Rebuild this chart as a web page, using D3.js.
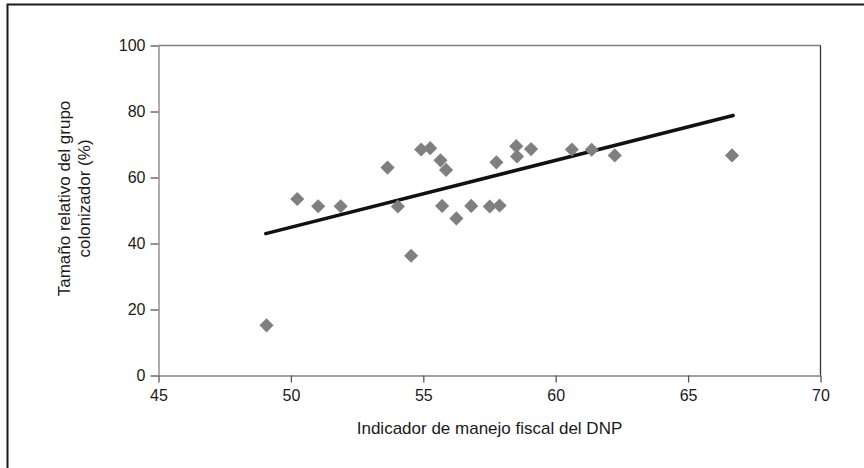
<!DOCTYPE html>
<html><head><meta charset="utf-8">
<script src="https://cdn.jsdelivr.net/npm/d3@7"></script>
<style>
body{margin:0;background:#fff;}
text{font-family:"Liberation Sans",Arial,sans-serif;fill:#1a1a1a;}
</style></head>
<body>
<svg id="c" width="864" height="468"></svg>
<script>
const xValues = [49.08,50.24,51.03,51.88,53.65,54.04,54.54,54.92,55.26,55.65,55.86,55.71,56.25,56.81,57.51,57.88,57.76,58.51,58.54,59.07,60.61,61.36,62.23,66.66];
const yValues = [15.2,53.5,51.3,51.3,63.0,51.2,36.3,68.5,68.9,65.2,62.3,51.4,47.6,51.4,51.2,51.5,64.6,69.5,66.4,68.6,68.5,68.4,66.7,66.7];
const trendX = [49.05, 66.7];
const trendY = [43.0, 78.8];
const xTicks = [45,50,55,60,65,70];
const yTicks = [0,20,40,60,80,100];
const xTitle = "Indicador de manejo fiscal del DNP";
const yTitle = ["Tamaño relativo del grupo","colonizador (%)"];

const svg = d3.select("#c");
const L=158.5, R=820.5, T=45.5, B=375.5;
const x = d3.scaleLinear().domain([45,70]).range([L,R]);
const y = d3.scaleLinear().domain([0,100]).range([B,T]);

// outer frame
svg.append("rect").attr("x",7.5).attr("y",4.5).attr("width",900).attr("height",500)
  .attr("fill","none").attr("stroke","#1a1a1a").attr("stroke-width",2);

// plot frame top and right
svg.append("line").attr("x1",L).attr("x2",R).attr("y1",T).attr("y2",T).attr("stroke","#808080").attr("stroke-width",1.3);
svg.append("line").attr("x1",R).attr("x2",R).attr("y1",T).attr("y2",B).attr("stroke","#333").attr("stroke-width",1.3);

const xAxis = svg.append("g").attr("transform",`translate(0,${B})`)
  .call(d3.axisBottom(x).tickValues(xTicks).tickSizeOuter(0).tickSizeInner(7).tickPadding(7).tickFormat(d3.format("d")));
const yAxis = svg.append("g").attr("transform",`translate(${L},0)`)
  .call(d3.axisLeft(y).tickValues(yTicks).tickSizeOuter(0).tickSizeInner(8).tickPadding(5).tickFormat(d3.format("d")));
[xAxis,yAxis].forEach(g=>{
  g.select(".domain").attr("stroke","#808080").attr("stroke-width",1.3);
  g.selectAll(".tick line").attr("stroke","#555").attr("stroke-width",1.3);
  g.selectAll(".tick text").attr("font-size",16).attr("fill","#1a1a1a")
   .style("font-family",'"Liberation Sans",Arial,sans-serif');
});

// trend line
svg.append("line")
  .attr("x1",x(trendX[0])).attr("y1",y(trendY[0]))
  .attr("x2",x(trendX[1])).attr("y2",y(trendY[1]))
  .attr("stroke","#111").attr("stroke-width",3.5).attr("stroke-linecap","round");

// points
const sym = d3.symbol().type(d3.symbolSquare).size(100);
svg.append("g").selectAll("path").data(xValues.map((v,i)=>[v,yValues[i]])).join("path")
  .attr("d",sym)
  .attr("transform",d=>`translate(${x(d[0])},${y(d[1])}) rotate(45)`)
  .attr("fill","#7f7f7f");

// titles
svg.append("text").attr("x",(L+R)/2).attr("y",434).attr("text-anchor","middle")
  .attr("font-size",17).text(xTitle);
const yt = svg.append("text").attr("transform",`translate(70,${(T+B)/2-12}) rotate(-90)`)
  .attr("text-anchor","middle").attr("font-size",17);
yt.append("tspan").attr("x",0).attr("dy",0).text(yTitle[0]);
yt.append("tspan").attr("x",0).attr("dy",20).text(yTitle[1]);
</script>
</body></html>
